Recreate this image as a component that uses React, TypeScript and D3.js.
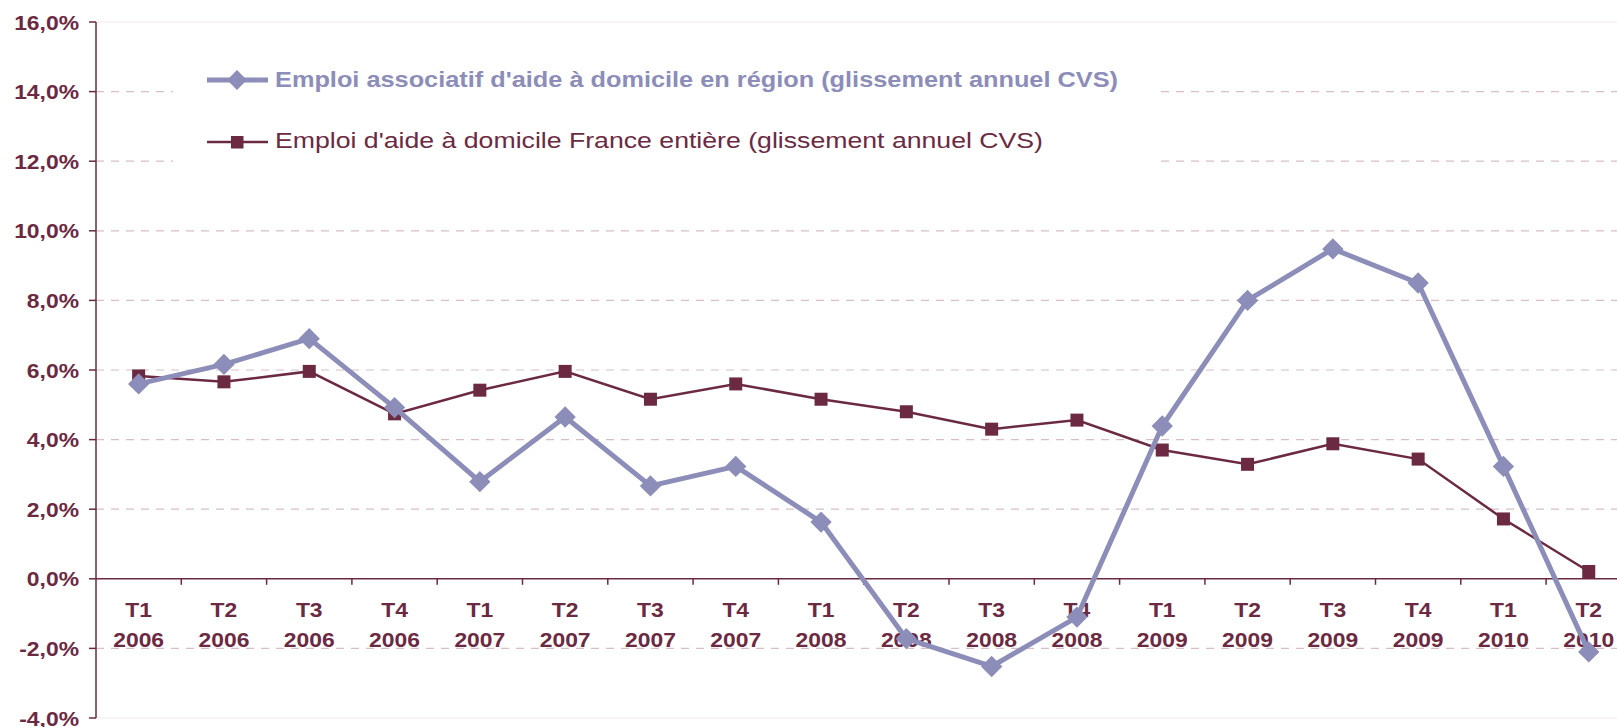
import React from "react";
import * as d3 from "d3";

const quarters = ["T1", "T2", "T3", "T4", "T1", "T2", "T3", "T4", "T1", "T2", "T3", "T4", "T1", "T2", "T3", "T4", "T1", "T2"];
const years = ["2006", "2006", "2006", "2006", "2007", "2007", "2007", "2007", "2008", "2008", "2008", "2008", "2009", "2009", "2009", "2009", "2010", "2010"];

const regionValues = [5.6, 6.16, 6.9, 4.92, 2.79, 4.65, 2.67, 3.23, 1.63, -1.72, -2.52, -1.1, 4.39, 8.0, 9.48, 8.5, 3.23, -2.1];
const franceValues = [5.83, 5.66, 5.96, 4.74, 5.42, 5.96, 5.16, 5.6, 5.16, 4.8, 4.3, 4.56, 3.7, 3.29, 3.88, 3.44, 1.72, 0.21];

const yTicks = [16, 14, 12, 10, 8, 6, 4, 2, 0, -2, -4];

const regionLabel = "Emploi associatif d'aide à domicile en région (glissement annuel CVS)";
const franceLabel = "Emploi d'aide à domicile France entière (glissement annuel CVS)";

const W = 1617;
const H = 727;
const maroon = "#6b2a42";
const lilac = "#8c8db8";
const grid = "#d6bfc7";
const stretch = 1.09;
const font = "'Liberation Sans', Arial, sans-serif";

const App = () => {
  const keys = quarters.map((_, i) => String(i));
  const x = d3.scaleBand().domain(keys).range([96, 96 + 18 * 85.3]).paddingInner(0);
  const y = d3.scaleLinear().domain([-4, 16]).range([718, 22]);
  const cx = (i: number) => (x(String(i)) as number) + x.bandwidth() / 2;

  const line = d3
    .line<number>()
    .x((_, i) => cx(i))
    .y(d => y(d));

  const fmt = (v: number) => v.toFixed(1).replace(".", ",") + "%";
  const left = x.range()[0];
  const right = x.range()[1];

  return (
    <svg
      width={W}
      height={H}
      style={{ position: "fixed", left: 0, top: 0, background: "#fff", overflow: "hidden" }}
      fontFamily={font}
    >
      {/* gridlines */}
      {yTicks.map(t =>
        t === 0 ? null : (
          <line
            key={"g" + t}
            x1={left}
            x2={right}
            y1={y(t)}
            y2={y(t)}
            stroke={t === 16 || t === -4 ? "#f3ecee" : grid}
            strokeWidth={1.2}
            strokeDasharray={t === 16 || t === -4 ? undefined : "8,7"}
          />
        )
      )}

      {/* legend box */}
      <rect x={173} y={50} width={982} height={135} fill="#fff" />
      <line x1={207} x2={268} y1={80} y2={80} stroke={lilac} strokeWidth={5} />
      <path d={d3.symbol(d3.symbolDiamond2, 250)() as string} transform="translate(237,80)" fill={lilac} />
      <text x={275} y={87} fontSize={21.5} fontWeight="bold" fill={lilac} textLength={843} lengthAdjust="spacingAndGlyphs">
        {regionLabel}
      </text>
      <line x1={207} x2={268} y1={142} y2={142} stroke={maroon} strokeWidth={2.5} />
      <rect x={231} y={136} width={12.5} height={12.5} fill={maroon} />
      <text x={275} y={148} fontSize={22} fill={maroon} textLength={768} lengthAdjust="spacingAndGlyphs">
        {franceLabel}
      </text>

      {/* y axis */}
      <line x1={left} x2={left} y1={y(16)} y2={y(-4)} stroke={maroon} strokeWidth={1.5} />
      {yTicks.map(t => (
        <g key={"y" + t}>
          <line x1={left - 7} x2={left} y1={y(t)} y2={y(t)} stroke={maroon} strokeWidth={1.5} />
          <text
            transform={`translate(79,${y(t)}) scale(${stretch},1)`}
            dy="0.36em"
            textAnchor="end"
            fontSize={21}
            fontWeight="bold"
            fill={maroon}
          >
            {fmt(t)}
          </text>
        </g>
      ))}

      {/* x axis */}
      <line x1={left} x2={right} y1={y(0)} y2={y(0)} stroke={maroon} strokeWidth={1.5} />
      {keys.map((k, i) => (
        <g key={"x" + k}>
          {i > 0 && (
            <line x1={x(k)} x2={x(k)} y1={y(0)} y2={y(0) + 6} stroke={maroon} strokeWidth={1.5} />
          )}
          <text
            transform={`translate(${cx(i)},617) scale(${stretch},1)`}
            textAnchor="middle"
            fontSize={21}
            fontWeight="bold"
            fill={maroon}
          >
            {quarters[i]}
          </text>
          <text
            transform={`translate(${cx(i)},647) scale(${stretch},1)`}
            textAnchor="middle"
            fontSize={21}
            fontWeight="bold"
            fill={maroon}
          >
            {years[i]}
          </text>
        </g>
      ))}

      {/* France series */}
      <path d={line(franceValues) as string} fill="none" stroke={maroon} strokeWidth={2.5} />
      {franceValues.map((v, i) => (
        <rect key={"f" + i} x={cx(i) - 6.5} y={y(v) - 6.5} width={13} height={13} fill={maroon} />
      ))}

      {/* region series */}
      <path d={line(regionValues) as string} fill="none" stroke={lilac} strokeWidth={5} strokeLinejoin="round" />
      {regionValues.map((v, i) => (
        <path
          key={"r" + i}
          d={d3.symbol(d3.symbolDiamond2, 290)() as string}
          transform={`translate(${cx(i)},${y(v)})`}
          fill={lilac}
        />
      ))}
    </svg>
  );
};

export default App;
